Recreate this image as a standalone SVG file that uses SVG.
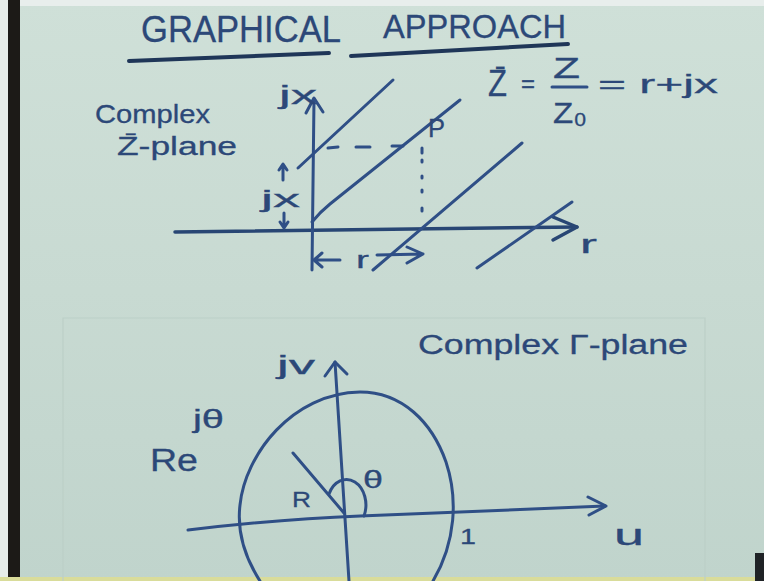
<svg xmlns="http://www.w3.org/2000/svg" width="764" height="581" viewBox="0 0 764 581">
<defs>
<linearGradient id="bg" x1="0" y1="0" x2="0" y2="1">
<stop offset="0" stop-color="#cfe0d8"/>
<stop offset="0.5" stop-color="#c8dad2"/>
<stop offset="1" stop-color="#c0d4cc"/>
</linearGradient>
<style>
.ink{fill:none;stroke:#2f4f86;stroke-width:3;stroke-linecap:round;stroke-linejoin:round}
.axis{fill:none;stroke:#284674;stroke-width:3.5;stroke-linecap:round;stroke-linejoin:round}
.dark{fill:none;stroke:#1f3658;stroke-width:4;stroke-linecap:round}
.t{font-family:"Liberation Sans","DejaVu Sans",sans-serif;fill:#2c4878;stroke:#2c4878;stroke-width:0.3}
.faint{fill:none;stroke:#bccfc7;stroke-width:1.2}
</style>
</defs>
<rect x="0" y="0" width="764" height="581" fill="url(#bg)"/>
<rect x="0" y="0" width="764" height="6" fill="#e8eeec"/>
<rect x="0" y="0" width="8" height="581" fill="#e6ece9"/>
<rect x="8" y="0" width="12" height="581" fill="#1c1a17"/>
<rect x="0" y="577" width="764" height="4" fill="#d9dc9a"/>
<rect x="755" y="553" width="9" height="28" fill="#1f2326"/>
<path class="faint" d="M63 581 L63 318 L705 318 L705 581"/>

<g id="title">
<text class="t" x="141" y="42" font-size="37" textLength="200" lengthAdjust="spacingAndGlyphs">GRAPHICAL</text>
<text class="t" x="383" y="38" font-size="33" textLength="183" lengthAdjust="spacingAndGlyphs">APPROACH</text>
<line class="dark" x1="129" y1="61" x2="329" y2="53"/>
<line class="dark" x1="351" y1="56" x2="568" y2="44"/>
</g>

<g id="z-plane">
<text class="t" x="95" y="123" font-size="25" textLength="115" lengthAdjust="spacingAndGlyphs">Complex</text>
<text class="t" x="117" y="155" font-size="25" textLength="120" lengthAdjust="spacingAndGlyphs">Z̄-plane</text>
<text class="t" x="488" y="96" font-size="36" textLength="19" lengthAdjust="spacingAndGlyphs">Z̄</text>
<text class="t" x="521" y="92" font-size="24" textLength="14" lengthAdjust="spacingAndGlyphs">=</text>
<text class="t" x="553" y="78" font-size="29" textLength="27" lengthAdjust="spacingAndGlyphs">Z</text>
<line class="ink" x1="552" y1="87" x2="587" y2="87"/>
<text class="t" x="553" y="123" font-size="30" textLength="34" lengthAdjust="spacingAndGlyphs">Z₀</text>
<text class="t" x="598" y="93" font-size="26" textLength="120" lengthAdjust="spacingAndGlyphs">= r+jx</text>

<line class="axis" x1="175" y1="232" x2="577" y2="227"/>
<polyline class="axis" points="553,217 577,227 553,240"/>
<line class="ink" x1="312" y1="270" x2="314" y2="99"/>
<polyline class="ink" points="306,113 314,98 323,112"/>
<text class="t" x="279" y="104" font-size="26" textLength="38" lengthAdjust="spacingAndGlyphs">jx</text>
<text class="t" x="580" y="253" font-size="26" textLength="17" lengthAdjust="spacingAndGlyphs">r</text>

<line class="ink" x1="298" y1="168" x2="393" y2="80"/>
<path class="ink" d="M312 222 Q320 212 330 204 L460 100"/>
<line class="ink" x1="373" y1="270" x2="522" y2="143"/>
<line class="ink" x1="477" y1="268" x2="572" y2="202"/>

<path class="ink" d="M328 148 L338 147 M356 147 L370 147 M392 146 L403 146"/>
<path class="ink" d="M422 148 L422 153 M422 160 L422 162 M422 176 L422 178 M422 190 L422 192 M422 208 L422 211"/>
<text class="t" x="428" y="137" font-size="26" textLength="17" lengthAdjust="spacingAndGlyphs">P</text>

<path class="ink" d="M283 180 L283 165 M279 170 L283 164 L287 170"/>
<text class="t" x="261" y="207" font-size="24" textLength="39" lengthAdjust="spacingAndGlyphs">jx</text>
<path class="ink" d="M284 213 L284 228 M280 222 L284 228 L288 222"/>

<path class="ink" d="M314 260 L340 260 M322 253 L314 260 L322 267"/>
<text class="t" x="356" y="268" font-size="24" textLength="13" lengthAdjust="spacingAndGlyphs">r</text>
<path class="ink" d="M377 255 L423 254 M407 247 L423 254 L407 263"/>
</g>

<g id="gamma-plane">
<text class="t" x="418" y="354" font-size="27" textLength="270" lengthAdjust="spacingAndGlyphs">Complex Γ-plane</text>
<text class="t" x="277" y="374" font-size="26" textLength="38" lengthAdjust="spacingAndGlyphs">jv</text>
<path class="ink" d="M349 581 L335 362"/>
<polyline class="ink" points="325,376 335,362 347,374"/>
<path class="ink" d="M188 530 Q280 519 360 516 L605 506"/>
<polyline class="ink" points="588,497 606,506 589,515"/>
<path class="ink" d="M260 581 C244 556 237 530 240 505 C245 455 292 393 360 392 C402 392 432 422 446 462 C458 498 456 542 433 581"/>
<line class="ink" x1="293" y1="453" x2="344" y2="513"/>
<path class="ink" d="M329 494 A19 25 0 0 1 364 516"/>
<text class="t" x="363" y="488" font-size="24" textLength="20" lengthAdjust="spacingAndGlyphs">θ</text>
<text class="t" x="292" y="507" font-size="22" textLength="19" lengthAdjust="spacingAndGlyphs">R</text>
<text class="t" x="460" y="544" font-size="22" textLength="16" lengthAdjust="spacingAndGlyphs">1</text>
<text class="t" x="614" y="545" font-size="30" textLength="30" lengthAdjust="spacingAndGlyphs">u</text>
<text class="t" x="150" y="471" font-size="31" textLength="48" lengthAdjust="spacingAndGlyphs">Re</text>
<text class="t" x="193" y="428" font-size="25" textLength="31" lengthAdjust="spacingAndGlyphs">jθ</text>
</g>
</svg>
